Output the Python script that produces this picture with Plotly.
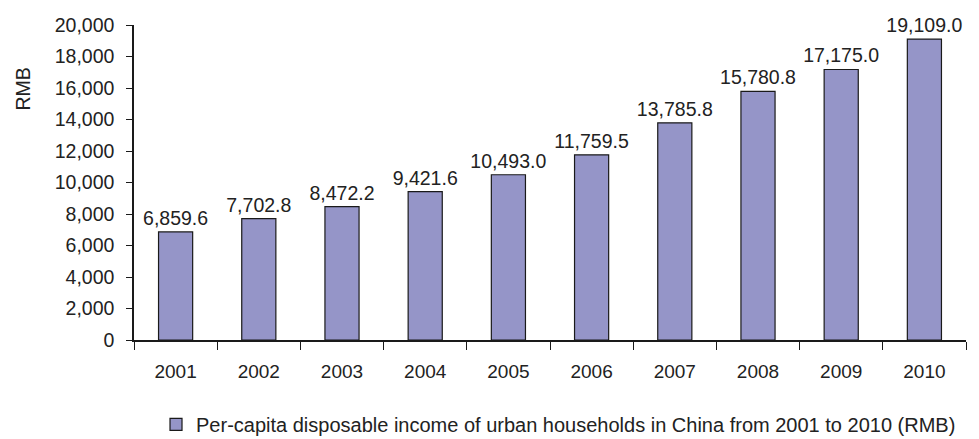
import plotly.graph_objects as go

years = ["2001", "2002", "2003", "2004", "2005", "2006", "2007", "2008", "2009", "2010"]
income = [6859.6, 7702.8, 8472.2, 9421.6, 10493.0, 11759.5, 13785.8, 15780.8, 17175.0, 19109.0]
labels = [f"{v:,.1f}" for v in income]
y_ticks = list(range(0, 20001, 2000))

font_family = "Liberation Sans, Arial, sans-serif"
ink = "#222222"

fig = go.Figure(
    go.Bar(
        x=years,
        y=income,
        text=labels,
        textposition="outside",
        constraintext="none",
        textfont=dict(family=font_family, size=19.5, color=ink),
        cliponaxis=False,
        width=0.41,
        marker=dict(color="#9595C8", line=dict(color="#1a1a1a", width=1.2)),
        name="Per-capita disposable income of urban households in China from 2001 to 2010 (RMB)",
        showlegend=True,
    )
)

# Unit label sits beside the upper part of the value axis
fig.add_annotation(
    text="RMB",
    xref="paper",
    yref="paper",
    x=-0.1334,
    y=0.795,
    xanchor="center",
    yanchor="middle",
    textangle=-90,
    showarrow=False,
    font=dict(family=font_family, size=19.5, color=ink),
)

fig.update_layout(
    width=979,
    height=439,
    margin=dict(l=134, r=13, t=25, b=99, autoexpand=False),
    paper_bgcolor="white",
    plot_bgcolor="white",
    font=dict(family=font_family, size=19.5, color=ink),
    legend=dict(
        orientation="h",
        x=0.994,
        xanchor="right",
        y=-0.268,
        yanchor="middle",
        tracegroupgap=0,
        font=dict(family=font_family, size=20, color=ink),
    ),
    xaxis=dict(
        type="category",
        showline=True,
        linecolor="#1a1a1a",
        linewidth=1.5,
        ticks="outside",
        tickson="boundaries",
        ticklen=8,
        tickcolor="#1a1a1a",
        showgrid=False,
        tickfont=dict(size=19),
        ticklabelstandoff=13,
    ),
    yaxis=dict(
        range=[0, 20000],
        tickvals=y_ticks,
        tickformat=",d",
        showline=True,
        linecolor="#1a1a1a",
        linewidth=1.5,
        ticks="outside",
        ticklen=6,
        tickcolor="#1a1a1a",
        showgrid=False,
        zeroline=False,
        tickfont=dict(size=19.5),
        ticklabelstandoff=8,
    ),
)

fig.write_html("out.html")
